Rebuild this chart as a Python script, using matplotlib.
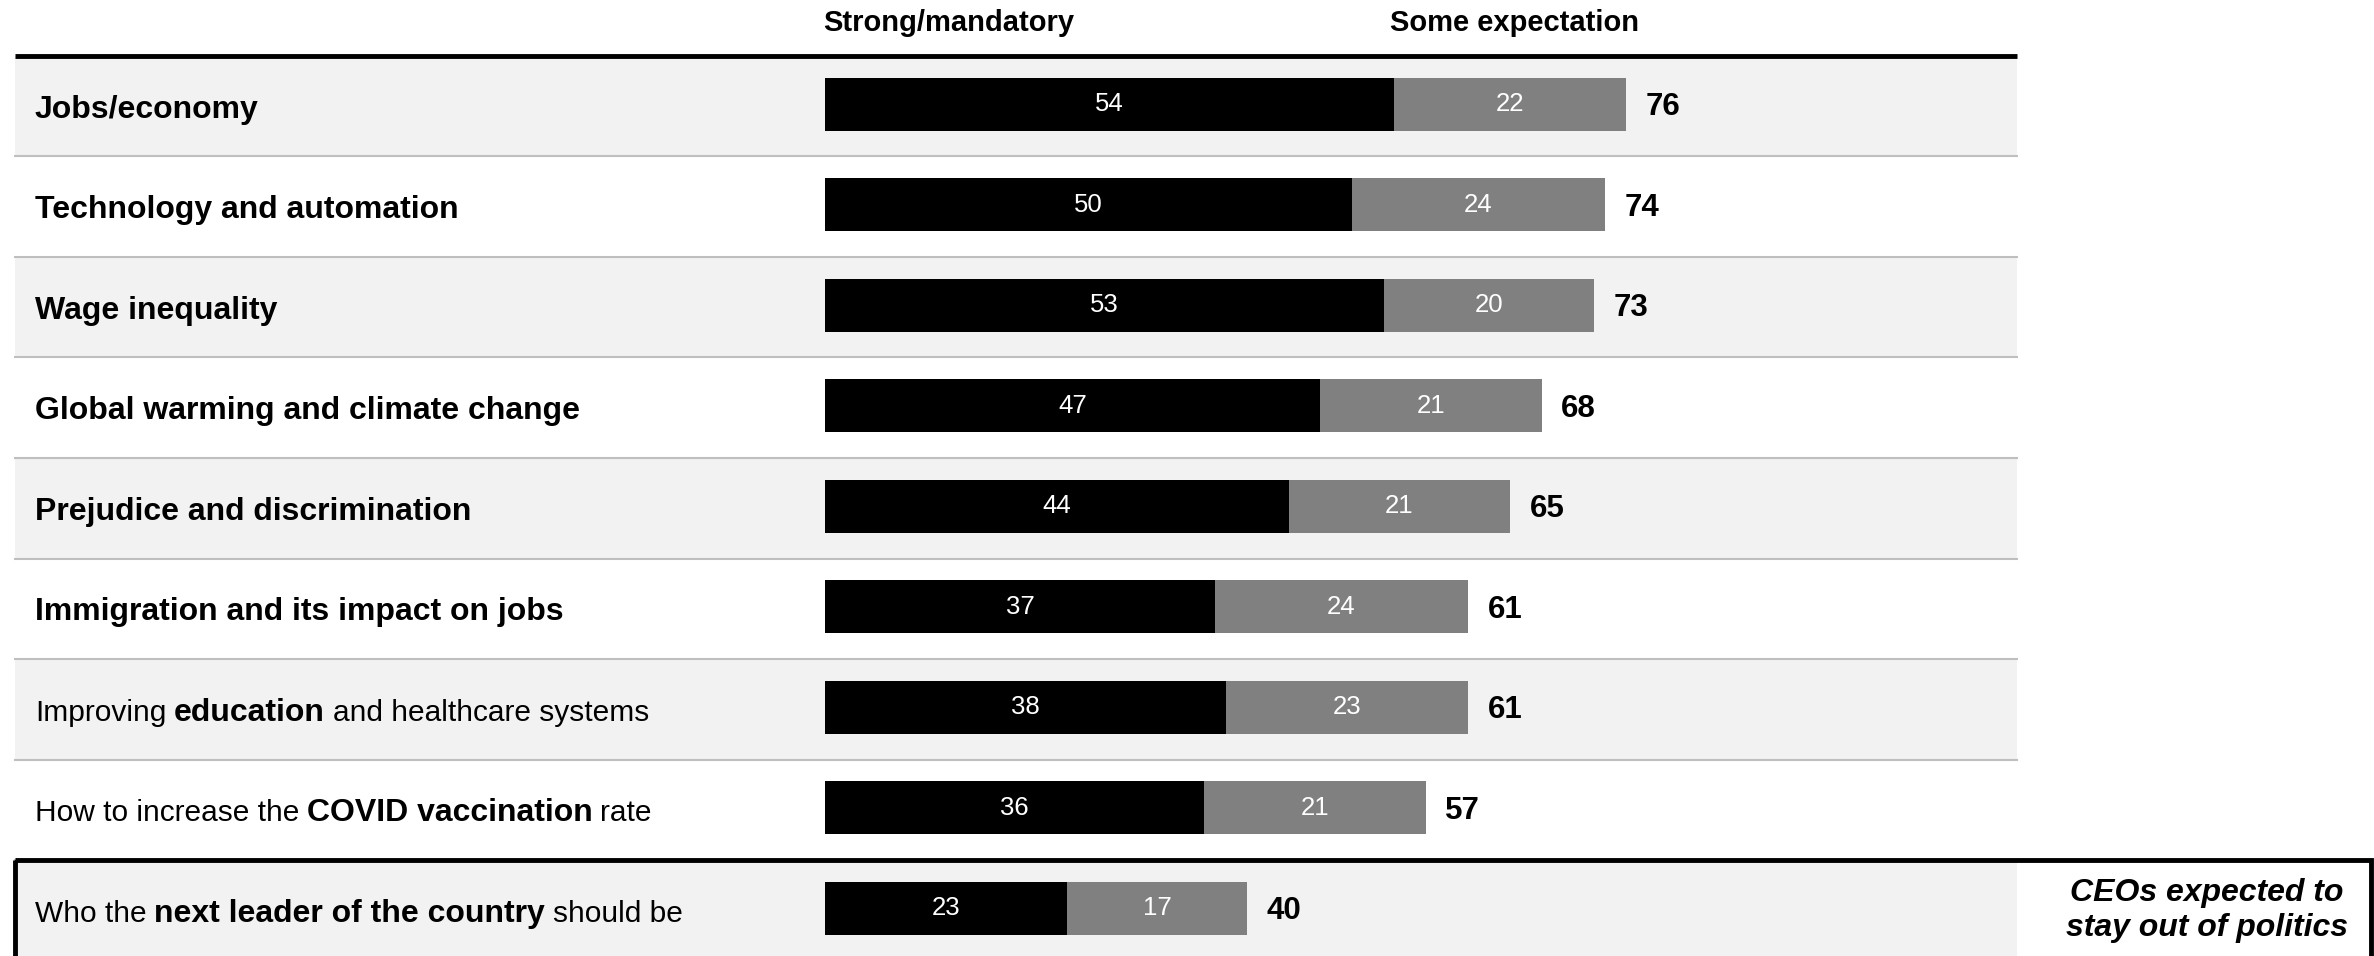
# stacked bars: how strongly CEOs are expected to speak out on each issue
import matplotlib
matplotlib.use('Agg')
import matplotlib.pyplot as plt
from matplotlib.patches import Rectangle

plt.rcParams['font.family'] = ['Liberation Sans', 'DejaVu Sans']

# data
categories = ['Jobs/economy', 'Technology and automation', 'Wage inequality',
              'Global warming and climate change', 'Prejudice and discrimination',
              'Immigration and its impact on jobs',
              'Improving education and healthcare systems',
              'How to increase the COVID vaccination rate',
              'Who the next leader of the country should be']
# which words are bold in each label
label_parts = [
    [('Jobs/economy', True)],
    [('Technology and automation', True)],
    [('Wage inequality', True)],
    [('Global warming and climate change', True)],
    [('Prejudice and discrimination', True)],
    [('Immigration and its impact on jobs', True)],
    [('Improving', False), ('education', True), ('and healthcare systems', False)],
    [('How to increase the', False), ('COVID vaccination', True), ('rate', False)],
    [('Who the', False), ('next leader of the country', True), ('should be', False)],
]
strong = [54, 50, 53, 47, 44, 37, 38, 36, 23]
some = [22, 24, 20, 21, 21, 24, 23, 21, 17]
totals = [76, 74, 73, 68, 65, 61, 61, 57, 40]
series_names = ['Strong/mandatory', 'Some expectation']
note = 'CEOs expected to\nstay out of politics'

# layout (x in value units, y in rows)
W, H = 2374, 956
x0_px, unit_px = 825, 10.54
row_px, top_px = 100.5, 56
xmin = -x0_px / unit_px
xmax = (W - x0_px) / unit_px
ytop = -0.5 - top_px / row_px
ybot = -0.5 + (H - top_px) / row_px

band_l = (15 - x0_px) / unit_px
band_r = (2017 - x0_px) / unit_px
label_x = (35 - x0_px) / unit_px

fig = plt.figure(figsize=(W / 100, H / 100), dpi=100)
ax = fig.add_axes([0, 0, 1, 1])
ax.set_xlim(xmin, xmax)
ax.set_ylim(ybot, ytop)
ax.axis('off')

n = len(categories)
ys = list(range(n))

# alternating row bands
for i in ys:
    if i % 2 == 0:
        ax.add_patch(Rectangle((band_l, i - 0.5), band_r - band_l, 1,
                               color='#f2f2f2', zorder=0, lw=0))
for i in ys[1:]:
    ax.plot([band_l, band_r], [i - 0.5, i - 0.5], color='#bfbfbf', lw=1.5, zorder=1)
ax.plot([band_l, band_r], [-0.5, -0.5], color='black', lw=3.5, zorder=3,
        solid_capstyle='butt')

# bars (sit a touch above the row centre)
bh = 0.53
yb = [y - 0.02 for y in ys]
ax.barh(yb, strong, height=bh, color='black', zorder=2)
ax.barh(yb, some, left=strong, height=bh, color='#808080', zorder=2)

for i in ys:
    ax.text(strong[i] / 2, yb[i], str(strong[i]), color='white', fontsize=18.5,
            ha='center', va='center', zorder=4)
    ax.text(strong[i] + some[i] / 2, yb[i], str(some[i]), color='white', fontsize=18.5,
            ha='center', va='center', zorder=4)
    ax.annotate(str(totals[i]), xy=(strong[i] + some[i], i + 0.01), xytext=(14, 0),
                textcoords='offset points', fontsize=22.5, fontweight='bold',
                ha='left', va='center', zorder=4)

# row labels with mixed weights, all on one baseline
gap = 5.5
for i, parts in enumerate(label_parts):
    base = i + 0.115
    prev = None
    for txt, bold in parts:
        w = 'bold' if bold else 'normal'
        fs = 23 if bold else 21.5
        if prev is None:
            prev = ax.text(label_x, base, txt, fontsize=fs, fontweight=w,
                           ha='left', va='baseline', zorder=4)
        else:
            prev = ax.annotate(txt, xy=(1, base), xycoords=(prev, 'data'),
                               xytext=(gap, 0), textcoords='offset points',
                               fontsize=fs, fontweight=w, ha='left',
                               va='baseline', zorder=4)

# column headers
ax.text(11.7, -0.83, series_names[0], fontsize=21, fontweight='bold',
        ha='center', va='center')
ax.text(65.4, -0.83, series_names[1], fontsize=21, fontweight='bold',
        ha='center', va='center')

# highlight box around last row
ax.add_patch(Rectangle((band_l, n - 1.5), (2371 - x0_px) / unit_px - band_l, 2,
                       fill=False, ec='black', lw=3.5, zorder=5))
ax.text((2207 - x0_px) / unit_px, n - 1, note, fontsize=23, fontweight='bold',
        fontstyle='italic', ha='center', va='center', linespacing=1.2, zorder=4)

fig.savefig('out.png', dpi=100)
